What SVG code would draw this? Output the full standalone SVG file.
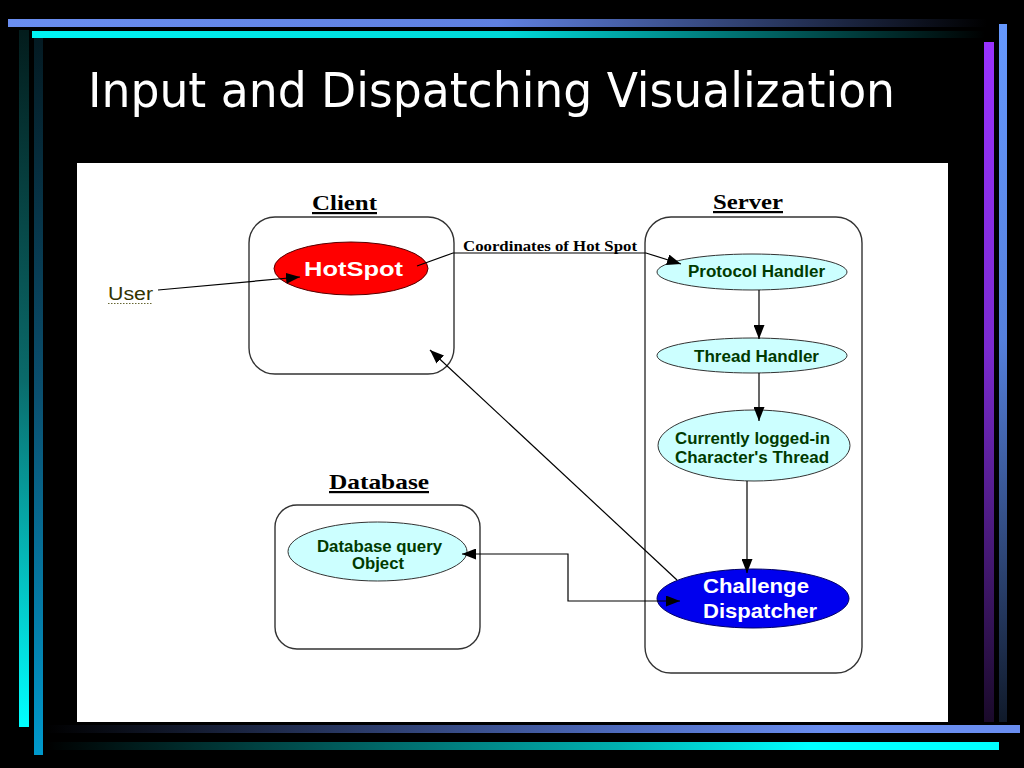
<svg xmlns="http://www.w3.org/2000/svg" width="1024" height="768" viewBox="0 0 1024 768">
<defs>
<linearGradient id="gTop1" x1="0" y1="0" x2="1" y2="0"><stop offset="0" stop-color="#6a8ef0"/><stop offset="0.5" stop-color="#5f80e0"/><stop offset="1" stop-color="#000"/></linearGradient>
<linearGradient id="gTop2" x1="0" y1="0" x2="1" y2="0"><stop offset="0" stop-color="#00f4f4"/><stop offset="0.5" stop-color="#00d8d8"/><stop offset="1" stop-color="#000"/></linearGradient>
<linearGradient id="gL1" x1="0" y1="0" x2="0" y2="1"><stop offset="0" stop-color="#031c1c"/><stop offset="0.5" stop-color="#0a6a6a"/><stop offset="1" stop-color="#00ffff"/></linearGradient>
<linearGradient id="gL2" x1="0" y1="0" x2="0" y2="1"><stop offset="0" stop-color="#041a22"/><stop offset="0.5" stop-color="#0a5070"/><stop offset="1" stop-color="#0099cc"/></linearGradient>
<linearGradient id="gR1" x1="0" y1="0" x2="0" y2="1"><stop offset="0" stop-color="#9933ff"/><stop offset="0.45" stop-color="#7a2ad0"/><stop offset="1" stop-color="#1a0a2a"/></linearGradient>
<linearGradient id="gR2" x1="0" y1="0" x2="0" y2="1"><stop offset="0" stop-color="#6699ff"/><stop offset="0.45" stop-color="#5580dd"/><stop offset="1" stop-color="#101a2a"/></linearGradient>
<linearGradient id="gB1" x1="0" y1="0" x2="1" y2="0"><stop offset="0" stop-color="#000"/><stop offset="0.6" stop-color="#4f6cc0"/><stop offset="0.8" stop-color="#6a8ef0"/><stop offset="1" stop-color="#6a8ef0"/></linearGradient>
<linearGradient id="gB2" x1="0" y1="0" x2="1" y2="0"><stop offset="0" stop-color="#000"/><stop offset="0.6" stop-color="#00b0b0"/><stop offset="0.8" stop-color="#00ffff"/><stop offset="1" stop-color="#00ffff"/></linearGradient>
<marker id="arr" markerUnits="userSpaceOnUse" markerWidth="15" markerHeight="11" refX="14" refY="5.5" orient="auto">
<path d="M0,0 L14,5.5 L0,11 Z" fill="#000"/>
</marker>
<marker id="arrS" markerUnits="userSpaceOnUse" markerWidth="15" markerHeight="11" refX="1" refY="5.5" orient="auto">
<path d="M15,0 L1,5.5 L15,11 Z" fill="#000"/>
</marker>
</defs>
<style>
.grp { fill: none; stroke: #333; stroke-width: 1.4; }
.hdr { font-family: "Liberation Serif", serif; font-weight: bold; font-size: 22px; fill: #000; text-decoration: underline; text-anchor: middle; }
.lbl { font-family: "Liberation Sans", Arial, sans-serif; font-weight: bold; font-size: 16px; fill: #003a00; text-anchor: middle; }
.big { font-family: "Liberation Sans", Arial, sans-serif; font-weight: bold; font-size: 21px; fill: #fff; text-anchor: middle; }
.cy { fill: #ccffff; stroke: #333; stroke-width: 1; }
.conn { fill: none; stroke: #000; stroke-width: 1.2; }
</style>
<rect x="0" y="0" width="1024" height="768" fill="#000"/>
<rect x="8" y="19" width="979" height="8" fill="url(#gTop1)"/>
<rect x="32" y="31" width="953" height="7" fill="url(#gTop2)"/>
<rect x="19" y="30" width="10" height="697" fill="url(#gL1)"/>
<rect x="34" y="38" width="9" height="717" fill="url(#gL2)"/>
<rect x="984" y="42" width="10" height="680" fill="url(#gR1)"/>
<rect x="999" y="24" width="8" height="698" fill="url(#gR2)"/>
<rect x="45" y="725" width="975" height="8" fill="url(#gB1)"/>
<rect x="45" y="742" width="954" height="8" fill="url(#gB2)"/>
<text x="88" y="107" font-family="'DejaVu Sans Condensed', 'DejaVu Sans', sans-serif" font-stretch="condensed" font-size="48" fill="#fff" textLength="807" lengthAdjust="spacingAndGlyphs">Input and Dispatching Visualization</text>
<rect x="77" y="163" width="871" height="559" fill="#fff"/>

<g id="client">
<rect class="grp" x="249" y="217" width="205" height="157" rx="26" ry="26"/>
<text class="hdr" x="344.5" y="210" textLength="65" lengthAdjust="spacingAndGlyphs">Client</text>
</g>
<g id="server">
<rect class="grp" x="645" y="217" width="217" height="456" rx="26" ry="26"/>
<text class="hdr" x="748" y="209" textLength="70" lengthAdjust="spacingAndGlyphs">Server</text>
</g>
<g id="database">
<rect class="grp" x="275" y="505" width="205" height="144" rx="22" ry="22"/>
<text class="hdr" x="379" y="489" textLength="100" lengthAdjust="spacingAndGlyphs">Database</text>
</g>
<g id="user">
<text x="108" y="300" font-family="'Liberation Sans', Arial, sans-serif" font-size="18" fill="#333300" textLength="45" lengthAdjust="spacingAndGlyphs">User</text>
<line x1="108" y1="303.5" x2="153" y2="303.5" stroke="#666633" stroke-width="1" stroke-dasharray="1.5,1.5"/>
</g>
<g id="hotspot">
<ellipse cx="351" cy="268.5" rx="77" ry="26.5" fill="#ff0000" stroke="#550000" stroke-width="1"/>
<text class="big" x="353.5" y="276" font-size="24" textLength="99" lengthAdjust="spacingAndGlyphs">HotSpot</text>
</g>
<g id="protocol-handler">
<ellipse class="cy" cx="752" cy="272" rx="95" ry="18"/>
<text class="lbl" x="756.5" y="277" textLength="137" lengthAdjust="spacingAndGlyphs">Protocol Handler</text>
</g>
<g id="thread-handler">
<ellipse class="cy" cx="752" cy="355.5" rx="95" ry="17.5"/>
<text class="lbl" x="756.5" y="361.5" textLength="125" lengthAdjust="spacingAndGlyphs">Thread Handler</text>
</g>
<g id="character-thread">
<ellipse class="cy" cx="754" cy="445.5" rx="96" ry="35.5"/>
<text class="lbl" x="752.5" y="444" font-size="15" textLength="155" lengthAdjust="spacingAndGlyphs">Currently logged-in</text>
<text class="lbl" x="752" y="463" font-size="15" textLength="154" lengthAdjust="spacingAndGlyphs">Character's Thread</text>
</g>
<g id="challenge-dispatcher">
<ellipse cx="753" cy="598.5" rx="96" ry="29.5" fill="#0000ee" stroke="#000066" stroke-width="1"/>
<text class="big" x="756" y="593" textLength="106" lengthAdjust="spacingAndGlyphs">Challenge</text>
<text class="big" x="760" y="618" textLength="114" lengthAdjust="spacingAndGlyphs">Dispatcher</text>
</g>
<g id="database-query">
<ellipse class="cy" cx="377.5" cy="551.5" rx="89.5" ry="29.5"/>
<text class="lbl" x="379.5" y="552" font-size="15" textLength="125" lengthAdjust="spacingAndGlyphs">Database query</text>
<text class="lbl" x="378" y="569" font-size="15" textLength="52" lengthAdjust="spacingAndGlyphs">Object</text>
</g>

<g id="connectors">
<line class="conn" x1="158" y1="290" x2="300" y2="277" marker-end="url(#arr)"/>
<polyline class="conn" points="417,266 453,253 646,253 681,264" marker-end="url(#arr)"/>
<text x="463" y="251" font-family="'Liberation Serif', serif" font-weight="bold" font-size="14" fill="#000" textLength="174" lengthAdjust="spacingAndGlyphs">Coordinates of Hot Spot</text>
<line class="conn" x1="759" y1="290" x2="759" y2="339" marker-end="url(#arr)"/>
<line class="conn" x1="759" y1="373" x2="759" y2="421" marker-end="url(#arr)"/>
<line class="conn" x1="747" y1="481" x2="747" y2="573" marker-end="url(#arr)"/>
<line class="conn" x1="677" y1="580" x2="430" y2="350" marker-end="url(#arr)"/>
<polyline class="conn" points="462,554 568,554 568,601 680,601" marker-start="url(#arrS)" marker-end="url(#arr)"/>
</g>
</svg>
